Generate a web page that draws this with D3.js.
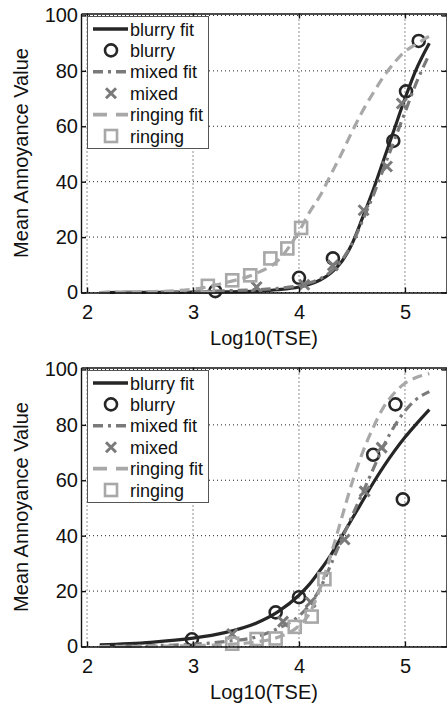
<!DOCTYPE html>
<html>
<head>
<meta charset="utf-8">
<script src="https://cdn.jsdelivr.net/npm/d3@7"></script>
<style>
body { margin: 0; background: #fff; }
svg { display: block; }
text { font-family: "Liberation Sans", Arial, sans-serif; fill: #111; }
</style>
</head>
<body>
<div id="viz"></div>
<script>
// x grid used for the fitted curves
var fitX = [2.12, 2.6, 3.0, 3.3, 3.6, 3.8, 4.0, 4.1, 4.2, 4.3, 4.4, 4.5, 4.6, 4.7, 4.8, 4.9, 5.0, 5.1, 5.23];

// top panel
var topBlurryFit  = [0, 0.05, 0.1, 0.2, 0.5, 1, 2, 3, 4.5, 7, 11, 17.5, 27, 37, 48, 59, 70, 80, 90];
var topMixedFit   = [0, 0.1, 0.3, 0.6, 1, 1.5, 2.5, 3.5, 5, 7.5, 11.5, 17.5, 26, 35, 45, 55, 65, 75, 86];
var topRingingFit = [0, 0.3, 1.2, 3.5, 7, 11.5, 22, 29, 35, 42.5, 50, 58, 65.5, 72, 78, 83, 87, 89.5, 92.5];
var topBlurryX  = [3.21, 4.0, 4.32, 4.89, 5.01, 5.13];
var topBlurryY  = [0.5, 5.3, 12.3, 54.7, 72.6, 90.8];
var topMixedX   = [3.6, 4.05, 4.32, 4.61, 4.83, 4.97];
var topMixedY   = [2.0, 2.8, 9.8, 29.7, 45.5, 68.2];
var topRingingX = [3.14, 3.37, 3.54, 3.73, 3.89, 4.02];
var topRingingY = [2.4, 4.4, 6.2, 12.3, 15.9, 23.3];

// bottom panel
var botBlurryFit  = [0.6, 1.5, 3, 5, 8.5, 12.5, 18.5, 22.5, 27.5, 33, 39.5, 46, 52.5, 59, 65, 70.5, 75.5, 80, 85.5];
var botMixedFit   = [0, 0.3, 0.8, 1.8, 3.5, 6.5, 11, 15, 21, 29.5, 38.5, 47, 55.5, 64, 72.5, 79.5, 85, 89, 92];
var botRingingFit = [0, 0.1, 0.3, 0.7, 1.7, 3.3, 7.5, 12, 21, 33, 46, 59, 70, 79, 86.5, 91.5, 95, 97, 98.5];
var botBlurryX  = [2.99, 3.78, 4.0, 4.70, 4.91, 4.98];
var botBlurryY  = [2.6, 12.3, 17.8, 69.2, 87.4, 53.1];
var botMixedX   = [3.37, 3.85, 4.11, 4.43, 4.62, 4.78];
var botMixedY   = [4.5, 9, 16, 38.6, 56, 71.8];
var botRingingX = [3.37, 3.6, 3.78, 3.96, 4.12, 4.24];
var botRingingY = [1.0, 2.7, 2.9, 7.1, 10.8, 24.3];

var xTicks = [2, 3, 4, 5];
var yTicks = [0, 20, 40, 60, 80, 100];
var legendLabels = ["blurry fit", "blurry", "mixed fit", "mixed", "ringing fit", "ringing"];

var dark = "#262626", mid = "#7a7a7a", light = "#a8a8a8";

var svg = d3.select("#viz")
  .append("svg")
  .attr("width", 447)
  .attr("height", 704);

var x = d3.scaleLinear().domain([1.943, 5.392]).range([81, 446.5]);
var y = d3.scaleLinear().domain([0, 100.7]).range([292.5, 13.5]);

var line = d3.line()
  .x(function(d) { return x(d[0]); })
  .y(function(d) { return y(d[1]); })
  .curve(d3.curveMonotoneX);

function pairs(xs, ys) {
  return xs.map(function(v, i) { return [v, ys[i]]; });
}

function fitPath(g, vals, colour, dash) {
  g.append("path")
    .attr("d", line(pairs(fitX, vals)))
    .attr("fill", "none")
    .attr("stroke", colour)
    .attr("stroke-width", 3.2)
    .attr("stroke-dasharray", dash);
}

function circles(g, pts) {
  g.selectAll(null).data(pts).enter().append("circle")
    .attr("cx", function(d) { return x(d[0]); })
    .attr("cy", function(d) { return y(d[1]); })
    .attr("r", 6)
    .attr("fill", "none")
    .attr("stroke", dark)
    .attr("stroke-width", 2.6);
}

function crosses(g, pts) {
  g.selectAll(null).data(pts).enter().append("path")
    .attr("d", "M-5,-5L5,5M-5,5L5,-5")
    .attr("transform", function(d) { return "translate(" + x(d[0]) + "," + y(d[1]) + ")"; })
    .attr("stroke", mid)
    .attr("stroke-width", 3);
}

function squares(g, pts) {
  g.selectAll(null).data(pts).enter().append("rect")
    .attr("x", function(d) { return x(d[0]) - 6; })
    .attr("y", function(d) { return y(d[1]) - 6; })
    .attr("width", 12)
    .attr("height", 12)
    .attr("fill", "none")
    .attr("stroke", light)
    .attr("stroke-width", 2.6);
}

function panel(offset, fits, pts) {
  var g = svg.append("g").attr("transform", "translate(0," + offset + ")");

  // dotted grid
  g.selectAll(null).data(xTicks).enter().append("line")
    .attr("x1", function(d) { return x(d); }).attr("x2", function(d) { return x(d); })
    .attr("y1", y(0)).attr("y2", 13.5)
    .attr("stroke", "#222").attr("stroke-width", 1).attr("stroke-dasharray", "1,3");
  g.selectAll(null).data(yTicks).enter().append("line")
    .attr("x1", 81).attr("x2", 446.5)
    .attr("y1", function(d) { return y(d); }).attr("y2", function(d) { return y(d); })
    .attr("stroke", "#222").attr("stroke-width", 1).attr("stroke-dasharray", "1,3");

  // data
  fitPath(g, fits[0], dark, null);
  circles(g, pts[0]);
  fitPath(g, fits[1], mid, "10,5,3,5");
  crosses(g, pts[1]);
  fitPath(g, fits[2], light, "10,6");
  squares(g, pts[2]);

  // axes with inward ticks
  var ax = g.append("g").attr("transform", "translate(0," + y(0) + ")")
    .call(d3.axisBottom(x).tickValues(xTicks).tickFormat(d3.format("d"))
      .tickSizeInner(-5).tickSizeOuter(0).tickPadding(12));
  var ay = g.append("g").attr("transform", "translate(81,0)")
    .call(d3.axisLeft(y).tickValues(yTicks).tickFormat(d3.format("d"))
      .tickSizeInner(-5).tickSizeOuter(0).tickPadding(3));
  var at = g.append("g").attr("transform", "translate(0,13.5)")
    .call(d3.axisTop(x).tickValues(xTicks).tickSizeInner(-5).tickSizeOuter(0).tickFormat(""));
  var ar = g.append("g").attr("transform", "translate(446.5,0)")
    .call(d3.axisRight(y).tickValues(yTicks).tickSizeInner(-5).tickSizeOuter(0).tickFormat(""));
  [ax, ay, at, ar].forEach(function(a) {
    a.selectAll("path,line").attr("stroke", "#111").attr("stroke-width", 1.4);
    a.selectAll("text").attr("font-size", 20).attr("fill", "#111")
      .style("font-family", "'Liberation Sans', Arial, sans-serif");
  });

  // axis titles
  g.append("text")
    .attr("x", 264).attr("y", 345)
    .attr("text-anchor", "middle").attr("font-size", 20)
    .text("Log10(TSE)");
  g.append("text")
    .attr("transform", "translate(28,153) rotate(-90)")
    .attr("text-anchor", "middle").attr("font-size", 20)
    .text("Mean Annoyance Value");

  // legend
  var lg = g.append("g");
  lg.append("rect")
    .attr("x", 87.5).attr("y", 16.5).attr("width", 121).attr("height", 132)
    .attr("fill", "#fff").attr("stroke", "#555").attr("stroke-width", 1);
  var styles = [
    { kind: "line", colour: dark, dash: null },
    { kind: "circle" },
    { kind: "line", colour: mid, dash: "10,5,3,5" },
    { kind: "cross" },
    { kind: "line", colour: light, dash: "14,9" },
    { kind: "square" }
  ];
  legendLabels.forEach(function(label, i) {
    var cy = 29 + i * 21.4;
    var s = styles[i];
    if (s.kind == "line") {
      lg.append("line").attr("x1", 93).attr("x2", 128).attr("y1", cy).attr("y2", cy)
        .attr("stroke", s.colour).attr("stroke-width", 3.6).attr("stroke-dasharray", s.dash);
    } else if (s.kind == "circle") {
      lg.append("circle").attr("cx", 111).attr("cy", cy).attr("r", 6)
        .attr("fill", "none").attr("stroke", dark).attr("stroke-width", 2.6);
    } else if (s.kind == "cross") {
      lg.append("path").attr("d", "M-5,-5L5,5M-5,5L5,-5")
        .attr("transform", "translate(111," + cy + ")")
        .attr("stroke", mid).attr("stroke-width", 3);
    } else {
      lg.append("rect").attr("x", 105).attr("y", cy - 6).attr("width", 12).attr("height", 12)
        .attr("fill", "none").attr("stroke", light).attr("stroke-width", 2.6);
    }
    lg.append("text").attr("x", 130).attr("y", cy + 6.5).attr("font-size", 18).text(label);
  });
}

panel(0,
  [topBlurryFit, topMixedFit, topRingingFit],
  [pairs(topBlurryX, topBlurryY), pairs(topMixedX, topMixedY), pairs(topRingingX, topRingingY)]);

panel(354,
  [botBlurryFit, botMixedFit, botRingingFit],
  [pairs(botBlurryX, botBlurryY), pairs(botMixedX, botMixedY), pairs(botRingingX, botRingingY)]);
</script>
</body>
</html>
